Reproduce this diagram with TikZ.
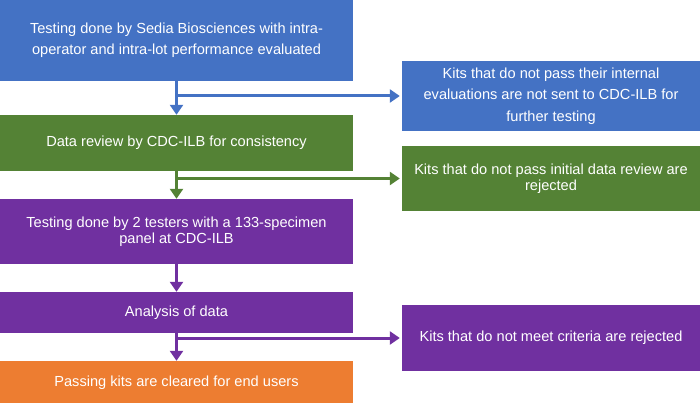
\documentclass[tikz,border=0pt]{standalone}
\usepackage{fontspec}
\setmainfont{Liberation Sans}
\usetikzlibrary{arrows.meta}
\definecolor{stepblue}{HTML}{4472C4}
\definecolor{stepgreen}{HTML}{548235}
\definecolor{steppurple}{HTML}{7030A0}
\definecolor{steporange}{HTML}{ED7D31}

\begin{document}
\begin{tikzpicture}[x=1pt,y=-1pt,>={Triangle[width=13pt,length=10pt]},
  box/.style={rectangle,inner sep=0pt,text=white,align=center,
    font=\fontsize{14.6}{16.5}\selectfont},
  mainbox/.style={box,minimum width=353pt},
  sidebox/.style={box,minimum width=298pt},
  link/.style={line width=3pt,->}]
  \useasboundingbox (0,0) rectangle (700,403);

  % Main column
  \node[mainbox,fill=stepblue,minimum height=81pt,font=\fontsize{14.6}{20.7}\selectfont] (test) at (176.5,40.5)
    {Testing done by Sedia Biosciences with intra-\\operator and intra-lot performance evaluated};
  \node[mainbox,fill=stepgreen,minimum height=56pt] (review) at (176.5,143)
    {Data review by CDC-ILB for consistency};
  \node[mainbox,fill=steppurple,minimum height=65pt] (testers) at (176.5,231.5)
    {Testing done by 2 testers with a 133-specimen\\panel at CDC-ILB};
  \node[mainbox,fill=steppurple,minimum height=41pt] (analysis) at (176.5,312.5)
    {Analysis of data};
  \node[mainbox,fill=steporange,minimum height=44pt] (cleared) at (176.5,383)
    {Passing kits are cleared for end users};

  % Side column (rejections)
  \node[sidebox,fill=stepblue,minimum height=70pt,font=\fontsize{14.6}{21.5}\selectfont] (notsent) at (551,96)
    {Kits that do not pass their internal\\evaluations are not sent to CDC-ILB for\\further testing};
  \node[sidebox,fill=stepgreen,minimum height=65pt] (rejreview) at (551,178.5)
    {Kits that do not pass initial data review are\\rejected};
  \node[sidebox,fill=steppurple,minimum height=66pt] (rejcrit) at (551,338)
    {Kits that do not meet criteria are rejected};

  % Arrows down
  \draw[link,stepblue] (test) -- (review);
  \draw[link,stepgreen] (review) -- (testers);
  \draw[link,steppurple] (testers) -- (analysis);
  \draw[link,steppurple] (analysis) -- (cleared);

  % Branches to the right
  \draw[link,stepblue,shorten >=2pt] (test.south |- notsent.west) -- (notsent.west);
  \draw[link,stepgreen,shorten >=2pt] (review.south |- rejreview.west) -- (rejreview.west);
  \draw[link,steppurple,shorten >=2pt] (analysis.south |- rejcrit.west) -- (rejcrit.west);
\end{tikzpicture}
\end{document}
